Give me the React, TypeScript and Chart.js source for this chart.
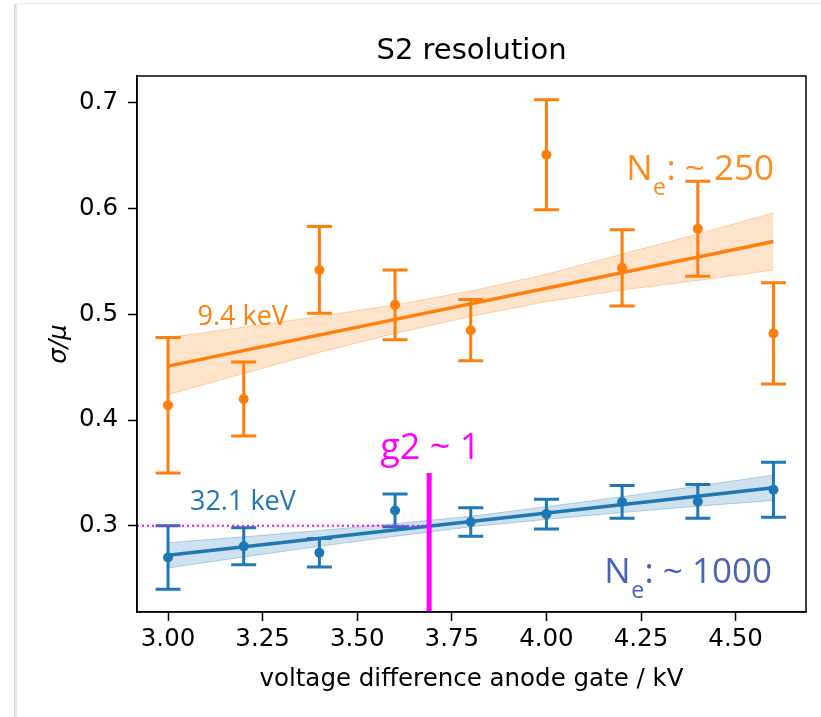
import React, { useEffect, useRef } from "react";
import { Chart, registerables } from "chart.js";

Chart.register(...registerables);

// ---- data ----
const voltages = [3.0, 3.2, 3.4, 3.6, 3.8, 4.0, 4.2, 4.4, 4.6];
const res94 = [0.414, 0.420, 0.542, 0.509, 0.485, 0.651, 0.544, 0.581, 0.482];
const err94 = [0.064, 0.035, 0.041, 0.033, 0.029, 0.052, 0.036, 0.045, 0.048];
const res321 = [0.270, 0.2805, 0.2745, 0.3145, 0.3035, 0.311, 0.3225, 0.323, 0.334];
const err321 = [0.030, 0.0175, 0.0135, 0.0155, 0.0135, 0.014, 0.0155, 0.016, 0.026];

const fitVoltages = [3.0, 4.6];
const fit94 = [0.451, 0.569];
const fit321 = [0.272, 0.336];

const band94Upper = [0.478, 0.488, 0.498, 0.509, 0.522, 0.538, 0.557, 0.576, 0.596];
const band94Lower = [0.424, 0.444, 0.464, 0.482, 0.498, 0.512, 0.523, 0.532, 0.542];
const band321Upper = [0.284, 0.2895, 0.2955, 0.302, 0.309, 0.318, 0.3275, 0.3375, 0.348];
const band321Lower = [0.260, 0.2705, 0.2805, 0.290, 0.299, 0.306, 0.3125, 0.3185, 0.324];

const xTicks = [3.0, 3.25, 3.5, 3.75, 4.0, 4.25, 4.5];
const yTicks = [0.3, 0.4, 0.5, 0.6, 0.7];

const g2Voltage = 3.69;
const g2LineTop = 0.35;
const g2Resolution = 0.3;

const ORANGE = "#ff7f0e";
const BLUE = "#1f77b4";
const MAGENTA = "#ff00ff";

const pts = (xs: number[], ys: number[]) => xs.map((x, i) => ({ x, y: ys[i] }));

const decorPlugin = {
  id: "decor",
  beforeDraw(chart: any) {
    const ctx = chart.ctx;
    ctx.save();
    ctx.fillStyle = "#ffffff";
    ctx.fillRect(0, 0, chart.width, chart.height);
    // card edges
    ctx.fillStyle = "#d2d2d2";
    ctx.fillRect(14, 4, 1.5, chart.height);
    ctx.fillStyle = "#e6e6e6";
    ctx.fillRect(15.5, 4, 1.5, chart.height);
    ctx.fillStyle = "#efefef";
    ctx.fillRect(15, 3, chart.width, 1.2);
    ctx.restore();
  },
  afterDatasetsDraw(chart: any) {
    const ctx = chart.ctx;
    const xs = chart.scales.x;
    const ys = chart.scales.y;
    const area = chart.chartArea;
    ctx.save();
    // error bars
    const drawErr = (vals: number[], errs: number[], color: string) => {
      ctx.strokeStyle = color;
      ctx.lineWidth = 3;
      ctx.lineCap = "butt";
      voltages.forEach((v, i) => {
        const px = xs.getPixelForValue(v);
        const top = ys.getPixelForValue(vals[i] + errs[i]);
        const bot = ys.getPixelForValue(vals[i] - errs[i]);
        ctx.beginPath();
        ctx.moveTo(px, top);
        ctx.lineTo(px, bot);
        ctx.moveTo(px - 12.5, top);
        ctx.lineTo(px + 12.5, top);
        ctx.moveTo(px - 12.5, bot);
        ctx.lineTo(px + 12.5, bot);
        ctx.stroke();
      });
    };
    drawErr(res94, err94, ORANGE);
    drawErr(res321, err321, BLUE);

    // g2 ~ 1 markers
    const gx = xs.getPixelForValue(g2Voltage);
    const gy = ys.getPixelForValue(g2Resolution);
    ctx.strokeStyle = MAGENTA;
    ctx.lineWidth = 2;
    ctx.setLineDash([2, 3]);
    ctx.beginPath();
    ctx.moveTo(area.left, gy);
    ctx.lineTo(gx, gy);
    ctx.stroke();
    ctx.setLineDash([]);
    ctx.lineWidth = 5;
    ctx.beginPath();
    ctx.moveTo(gx, ys.getPixelForValue(g2LineTop));
    ctx.lineTo(gx, area.bottom);
    ctx.stroke();

    // frame
    ctx.strokeStyle = "#000";
    ctx.lineWidth = 1.5;
    ctx.strokeRect(area.left, area.top, area.right - area.left, area.bottom - area.top);

    // annotations
    ctx.textBaseline = "alphabetic";
    ctx.textAlign = "left";
    ctx.font = '27px "Open Sans"';
    ctx.fillStyle = ORANGE;
    ctx.fillText("9.4 keV", xs.getPixelForValue(3.078), ys.getPixelForValue(0.49));
    ctx.fillStyle = BLUE;
    ctx.fillText("32.1 keV", xs.getPixelForValue(3.058), ys.getPixelForValue(0.3149));
    ctx.font = '36px "Open Sans"';
    ctx.fillStyle = MAGENTA;
    ctx.fillText("g2 ~ 1", xs.getPixelForValue(3.561), ys.getPixelForValue(0.363));

    const drawNe = (x: number, y: number, rest: string, color: string) => {
      ctx.fillStyle = color;
      ctx.font = '35px "Open Sans"';
      ctx.fillText("N", x, y);
      let cx = x + ctx.measureText("N").width + 0.5;
      ctx.font = '23px "Open Sans"';
      ctx.fillText("e", cx, y + 15);
      cx += ctx.measureText("e").width + 0.5;
      ctx.font = '35px "Open Sans"';
      ctx.fillText(rest, cx, y);
    };
    drawNe(xs.getPixelForValue(4.211), ys.getPixelForValue(0.627), ": ~ 250", "#ff8a1f");
    drawNe(xs.getPixelForValue(4.153), ys.getPixelForValue(0.2455), ": ~ 1000", "#4a62b6");

    // titles
    ctx.fillStyle = "#000";
    ctx.textAlign = "center";
    ctx.font = '29px "DejaVu Sans"';
    ctx.fillText("S2 resolution", (area.left + area.right) / 2, 59);
    ctx.font = '24.5px "DejaVu Sans"';
    ctx.fillText("voltage difference anode gate / kV", (area.left + area.right) / 2, 686);
    ctx.save();
    ctx.translate(66, (area.top + area.bottom) / 2);
    ctx.rotate(-Math.PI / 2);
    ctx.font = 'italic 24.5px "DejaVu Sans"';
    ctx.fillText("σ/μ", 0, 0);
    ctx.restore();
    ctx.restore();
  },
};

export default function App() {
  const canvasRef = useRef<HTMLCanvasElement | null>(null);

  useEffect(() => {
    if (!canvasRef.current) return;
    Chart.defaults.font.family = '"DejaVu Sans", sans-serif';
    const tickFont = { family: '"DejaVu Sans", sans-serif', size: 24.5 };
    const chart = new Chart(canvasRef.current, {
      type: "scatter",
      data: {
        datasets: [
          {
            label: "9.4 keV",
            data: pts(voltages, res94),
            backgroundColor: ORANGE,
            borderColor: ORANGE,
            pointRadius: 5,
            pointBorderWidth: 0,
            showLine: false,
          },
          {
            label: "32.1 keV",
            data: pts(voltages, res321),
            backgroundColor: BLUE,
            borderColor: BLUE,
            pointRadius: 5,
            pointBorderWidth: 0,
            showLine: false,
          },
          {
            label: "fit 9.4",
            data: pts(fitVoltages, fit94),
            borderColor: ORANGE,
            borderWidth: 3.5,
            pointRadius: 0,
            showLine: true,
          },
          {
            label: "fit 32.1",
            data: pts(fitVoltages, fit321),
            borderColor: BLUE,
            borderWidth: 3.5,
            pointRadius: 0,
            showLine: true,
          },
          {
            label: "band 9.4 upper",
            data: pts(voltages, band94Upper),
            borderColor: "rgba(255,127,14,0.3)",
            borderWidth: 1,
            backgroundColor: "rgba(255,127,14,0.22)",
            pointRadius: 0,
            showLine: true,
            fill: "+1",
          },
          {
            label: "band 9.4 lower",
            data: pts(voltages, band94Lower),
            borderColor: "rgba(255,127,14,0.3)",
            borderWidth: 1,
            pointRadius: 0,
            showLine: true,
          },
          {
            label: "band 32.1 upper",
            data: pts(voltages, band321Upper),
            borderColor: "rgba(31,119,180,0.3)",
            borderWidth: 1,
            backgroundColor: "rgba(31,119,180,0.22)",
            pointRadius: 0,
            showLine: true,
            fill: "+1",
          },
          {
            label: "band 32.1 lower",
            data: pts(voltages, band321Lower),
            borderColor: "rgba(31,119,180,0.3)",
            borderWidth: 1,
            pointRadius: 0,
            showLine: true,
          },
        ],
      },
      options: {
        animation: false,
        responsive: false,
        devicePixelRatio: 1,
        layout: { padding: { top: 76, right: 15, left: 0, bottom: 0 } },
        plugins: {
          legend: { display: false },
          tooltip: { enabled: false },
          title: { display: false },
        },
        scales: {
          x: {
            type: "linear",
            min: 2.918,
            max: 4.686,
            afterBuildTicks: (s: any) => {
              s.ticks = xTicks.map((v) => ({ value: v }));
            },
            afterFit: (s: any) => {
              s.height = 105;
            },
            ticks: {
              color: "#000",
              font: tickFont,
              padding: 4,
              maxRotation: 0,
              autoSkip: false,
              callback: (v: any) => Number(v).toFixed(2),
            },
            grid: {
              display: true,
              drawOnChartArea: false,
              drawTicks: true,
              tickLength: 9,
              tickWidth: 1.5,
              color: "#000",
            },
            border: { display: true, color: "#000", width: 1.5 },
          },
          y: {
            type: "linear",
            min: 0.2184,
            max: 0.7255,
            afterBuildTicks: (s: any) => {
              s.ticks = yTicks.map((v) => ({ value: v }));
            },
            afterFit: (s: any) => {
              s.width = 137;
            },
            ticks: {
              color: "#000",
              font: tickFont,
              padding: 10,
              autoSkip: false,
              callback: (v: any) => Number(v).toFixed(1),
            },
            grid: {
              display: true,
              drawOnChartArea: false,
              drawTicks: true,
              tickLength: 9,
              tickWidth: 1.5,
              color: "#000",
            },
            border: { display: true, color: "#000", width: 1.5 },
          },
        },
      },
      plugins: [decorPlugin],
    });
    return () => chart.destroy();
  }, []);

  return (
    <div
      style={{
        position: "absolute",
        left: 0,
        top: 0,
        width: 821,
        height: 717,
        background: "#fff",
      }}
    >
      <canvas ref={canvasRef} width={821} height={717} style={{ display: "block" }} />
    </div>
  );
}
